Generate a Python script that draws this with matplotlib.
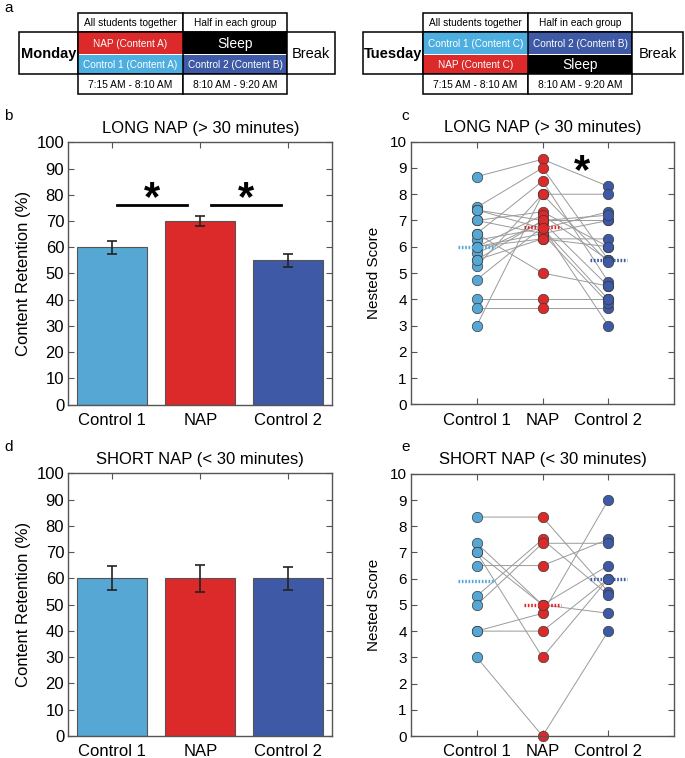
import matplotlib
matplotlib.use("Agg")
import matplotlib.pyplot as plt
from matplotlib.patches import Rectangle
import numpy as np

plt.rcParams['font.family'] = ['Liberation Sans', 'DejaVu Sans']

W, H = 685, 758
C_LIGHT = "#56A7D3"
C_RED = "#DC2A2A"
C_BLUE = "#3E59A5"

# ---------------- data ----------------
groups = ["Control 1", "NAP", "Control 2"]
long_means = [60, 70, 55]
long_err = [2.5, 2.0, 2.5]
short_means = [60, 60, 60]
short_err = [4.6, 5.2, 4.5]

# panel c: nested scores per subject (Control 1, NAP, Control 2)
long_c1 = [8.67, 7.5, 7.4, 7.0, 6.5, 6.25, 6.0, 6.0, 5.75, 5.5, 5.25, 4.75, 4.0, 3.65, 3.0, 7.0, 6.5, 5.5, 6.0, 7.4]
long_nap = [9.33, 9.0, 7.0, 7.33, 8.5, 6.7, 7.2, 6.5, 6.95, 6.3, 8.0, 6.75, 4.0, 3.65, 8.0, 6.5, 5.0, 7.0, 6.3, 6.7]
long_c2 = [8.3, 5.5, 7.0, 6.0, 4.67, 7.33, 5.5, 7.0, 4.5, 6.3, 8.0, 3.0, 4.0, 3.65, 5.4, 3.85, 4.5, 7.2, 6.0, 4.0]
long_center = [6.0, 6.74, 5.49]

# panel e
short_c1 = [8.35, 7.35, 7.0, 6.5, 5.34, 5.0, 4.0, 4.0, 3.0, 7.0]
short_nap = [8.35, 5.0, 3.0, 6.5, 7.5, 7.35, 4.68, 4.0, 0.0, 5.0]
short_c2 = [5.5, 4.68, 6.0, 7.5, 5.38, 7.35, 9.0, 6.0, 4.0, 6.5]
short_center = [5.93, 5.0, 6.0]

fig = plt.figure(figsize=(W / 100, H / 100), dpi=100)


def rect(l, t, r, b):
    return [l / W, 1 - b / H, (r - l) / W, (b - t) / H]


def style_axes(ax):
    for s in ax.spines.values():
        s.set_color("#555555")
        s.set_linewidth(1.0)
    ax.tick_params(direction="in", top=True, right=True, length=4,
                   color="#555555", pad=3)
    ax.tick_params(axis="x", pad=6)


def bar_panel(ax, means, errs, title):
    xs = np.arange(1, 4)
    ax.bar(xs, means, width=0.8, color=[C_LIGHT, C_RED, C_BLUE],
           edgecolor="#555555", linewidth=0.8, zorder=2)
    ax.errorbar(xs, means, yerr=errs, fmt="none", ecolor="#222222",
                elinewidth=1.2, capsize=3.5, capthick=1.2, zorder=3)
    ax.set_xlim(0.5, 3.5)
    ax.set_ylim(0, 100)
    ax.set_yticks(np.arange(0, 101, 10))
    ax.set_xticks(xs)
    ax.set_xticklabels(groups)
    ax.set_ylabel("Content Retention (%)", fontsize=12, labelpad=4)
    ax.set_title(title, fontsize=12, pad=7)


def dot_panel(ax, c1, nap, c2, centers, title):
    data = [c1, nap, c2]
    cols = [C_LIGHT, C_RED, C_BLUE]
    for a, b, c in zip(c1, nap, c2):
        ax.plot([1, 2, 3], [a, b, c], color="#9a9a9a", lw=0.7, zorder=1)
    for i, (vals, col) in enumerate(zip(data, cols)):
        ax.plot(np.full(len(vals), i + 1), vals, "o", ms=7.5, mfc=col,
                mec="#3a3a3a", mew=0.5, zorder=2, clip_on=False)
    for i, (m, col) in enumerate(zip(centers, cols)):
        ax.plot([i + 1 - 0.28, i + 1 + 0.28], [m, m], ls=(0, (0.5, 0.5)),
                color=col, lw=2.4, zorder=3)
    ax.set_xlim(0, 4)
    ax.set_ylim(0, 10)
    ax.set_yticks(np.arange(0, 11, 1))
    ax.set_xticks([1, 2, 3])
    ax.set_xticklabels(groups)
    ax.set_ylabel("Nested Score", fontsize=11, labelpad=6)
    ax.set_title(title, fontsize=12, pad=7)


# panel b
axb = fig.add_axes(rect(68.3, 142.3, 332.3, 404.7))
bar_panel(axb, long_means, long_err, "LONG NAP (> 30 minutes)")
style_axes(axb)
axb.tick_params(axis="both", labelsize=12)
axb.plot([1.05, 1.85], [76, 76], color="black", lw=2)
axb.plot([2.12, 2.92], [76, 76], color="black", lw=2)
axb.text(1.45, 78.5, "*", fontsize=30, fontweight="bold", ha="center", va="center")
axb.text(2.52, 78.5, "*", fontsize=30, fontweight="bold", ha="center", va="center")

# panel d
axd = fig.add_axes(rect(68.3, 473.3, 332.3, 736))
bar_panel(axd, short_means, short_err, "SHORT NAP (< 30 minutes)")
style_axes(axd)
axd.tick_params(axis="both", labelsize=12)

# panel c
axc = fig.add_axes(rect(411, 141.7, 674, 404.3))
dot_panel(axc, long_c1, long_nap, long_c2, long_center, "LONG NAP (> 30 minutes)")
style_axes(axc)
axc.tick_params(axis="y", labelsize=11)
axc.tick_params(axis="x", labelsize=12)
axc.text(2.6, 8.85, "*", fontsize=30, fontweight="bold", ha="center", va="center")

# panel e
axe = fig.add_axes(rect(411, 473.8, 674, 736))
dot_panel(axe, short_c1, short_nap, short_c2, short_center, "SHORT NAP (< 30 minutes)")
style_axes(axe)
axe.tick_params(axis="y", labelsize=11)
axe.tick_params(axis="x", labelsize=12)

# ---------------- panel a: schedule tables ----------------
ov = fig.add_axes([0, 0, 1, 1], zorder=-1)
ov.set_xlim(0, W)
ov.set_ylim(H, 0)
ov.axis("off")


def cell(x0, y0, x1, y1, text="", fc="white", tc="black", fs=7, bold=False, lw=1.1):
    ov.add_patch(Rectangle((x0, y0), x1 - x0, y1 - y0, fc=fc, ec="black", lw=lw))
    if text:
        ov.text((x0 + x1) / 2, (y0 + y1) / 2 + 0.5, text, ha="center", va="center",
                fontsize=fs, color=tc, fontweight="bold" if bold else "normal")


def schedule(x_day, x1, x2, x3, x_end, day, top_rows, bot_rows):
    yh, yt, ym, yb, yend = 12.7, 32.3, 54.5, 74.3, 94
    cell(x_day, yt, x1, yb, day, fs=10.5, bold=True)
    cell(x1, yh, x2, yt, "All students together", fs=7.3)
    cell(x2, yh, x3, yt, "Half in each group", fs=7.3)
    (t1, c1), (t2, c2) = top_rows
    (b1, d1), (b2, d2) = bot_rows
    cell(x1, yt, x2, ym, t1, fc=c1, tc="white", fs=10 if t1 == "Sleep" else 7.2, lw=0)
    cell(x2, yt, x3, ym, t2, fc=c2, tc="white", fs=10 if t2 == "Sleep" else 7.2, lw=0)
    cell(x1, ym, x2, yb, b1, fc=d1, tc="white", fs=10 if b1 == "Sleep" else 7.2, lw=0)
    cell(x2, ym, x3, yb, b2, fc=d2, tc="white", fs=10 if b2 == "Sleep" else 7.2, lw=0)
    ov.add_patch(Rectangle((x1, yt), x3 - x1, yb - yt, fc="none", ec="black", lw=1.1))
    ov.plot([x2, x2], [yt, yb], color="black", lw=1.1)
    cell(x3, yt, x_end, yb, "Break", fs=10.5)
    cell(x1, yb, x2, yend, "7:15 AM - 8:10 AM", fs=7.4)
    cell(x2, yb, x3, yend, "8:10 AM - 9:20 AM", fs=7.4)


schedule(19, 78, 183, 287, 335, "Monday",
         [("NAP (Content A)", C_RED), ("Sleep", "black")],
         [("Control 1 (Content A)", "#4DAEE0"), ("Control 2 (Content B)", C_BLUE)])
schedule(362.7, 422.7, 528.3, 631.7, 683.5, "Tuesday",
         [("Control 1 (Content C)", "#4DAEE0"), ("Control 2 (Content B)", C_BLUE)],
         [("NAP (Content C)", C_RED), ("Sleep", "black")])

for lab, x, y in [("a", 4, 8), ("b", 4, 116), ("c", 401, 116), ("d", 4, 447), ("e", 401, 447)]:
    ov.text(x, y, lab, fontsize=11, ha="left", va="center")

fig.savefig("out.png", dpi=100)
